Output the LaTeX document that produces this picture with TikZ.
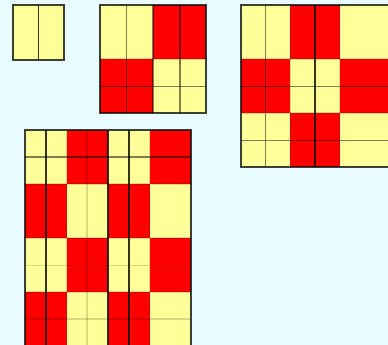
\documentclass[tikz,border=0pt]{standalone}
\usepackage{xcolor}

\definecolor{bgcyan}{RGB}{232,252,255}
\definecolor{cellyellow}{RGB}{255,255,153}
\definecolor{cellred}{RGB}{255,0,0}

\begin{document}
\begin{tikzpicture}[
    x=1pt, y=-1pt,
    frame/.style={draw=black, draw opacity=0.75, line width=1.7pt},
    darkline/.style={draw=black, draw opacity=0.8, line width=1.2pt},
    midline/.style={draw=black, draw opacity=0.5, line width=1.2pt},
    faintline/.style={draw=black, draw opacity=0.15, line width=1.2pt}
]

% Background
\useasboundingbox (0,0) rectangle (388,345);
\fill[bgcyan] (0,0) rectangle (388,345);
\clip (0,0) rectangle (388,345);

% Smallest grid (top left)
\fill[cellyellow] (13,5) rectangle (64,60);
\draw[darkline] (38.5,5) -- (38.5,60);
\draw[frame] (13,5) rectangle (64,60);

% Second grid (2x2 blocks)
\foreach \r in {0,1} {
  \foreach \c in {0,1} {
    \pgfmathtruncatemacro{\pty}{mod(\r+\c,2)}
    \ifnum\pty=0 \def\cellcol{cellyellow}\else \def\cellcol{cellred}\fi
    \fill[\cellcol] ({100+53*\c},{5+54*\r}) rectangle ++(53,54);
  }
}
\foreach \xx/\st in {126.5/midline, 153/midline, 180/midline}
  \draw[\st] (\xx,5) -- (\xx,113);
\foreach \yy/\st in {59/faintline, 86.5/midline}
  \draw[\st] (100,\yy) -- (206,\yy);
\draw[frame] (100,5) rectangle (206,113);

% Third grid (3x3 blocks, top right)
\foreach \r in {0,1,2} {
  \foreach \c in {0,1,2} {
    \pgfmathtruncatemacro{\pty}{mod(\r+\c,2)}
    \ifnum\pty=0 \def\cellcol{cellyellow}\else \def\cellcol{cellred}\fi
    \fill[\cellcol] ({241+49.3*\c},{5+54*\r}) rectangle ++(49.3,54);
  }
}
\foreach \xx/\st in {265.5/midline, 290.3/faintline, 315/darkline, 339.6/faintline}
  \draw[\st] (\xx,5) -- (\xx,167);
\foreach \yy/\st in {59/faintline, 86.7/midline, 113/faintline, 140.7/midline}
  \draw[\st] (241,\yy) -- (395,\yy);
\draw[frame] (241,5) rectangle (395,167);

% Fourth grid (4x4 blocks, bottom left)
\foreach \r in {0,1,2,3} {
  \foreach \c in {0,1,2,3} {
    \pgfmathtruncatemacro{\pty}{mod(\r+\c,2)}
    \ifnum\pty=0 \def\cellcol{cellyellow}\else \def\cellcol{cellred}\fi
    \fill[\cellcol] ({25+41.5*\c},{130+54*\r}) rectangle ++(41.5,54);
  }
}
\foreach \xx/\st in {46/darkline, 66.5/faintline, 87/faintline, 108/darkline, 129/darkline, 149.5/faintline}
  \draw[\st] (\xx,130) -- (\xx,350);
\foreach \yy/\st in {157/midline, 184/faintline, 238/faintline, 265.5/faintline, 292/faintline, 319/faintline}
  \draw[\st] (25,\yy) -- (191,\yy);
\draw[frame] (25,130) rectangle (191,350);

\end{tikzpicture}
\end{document}
